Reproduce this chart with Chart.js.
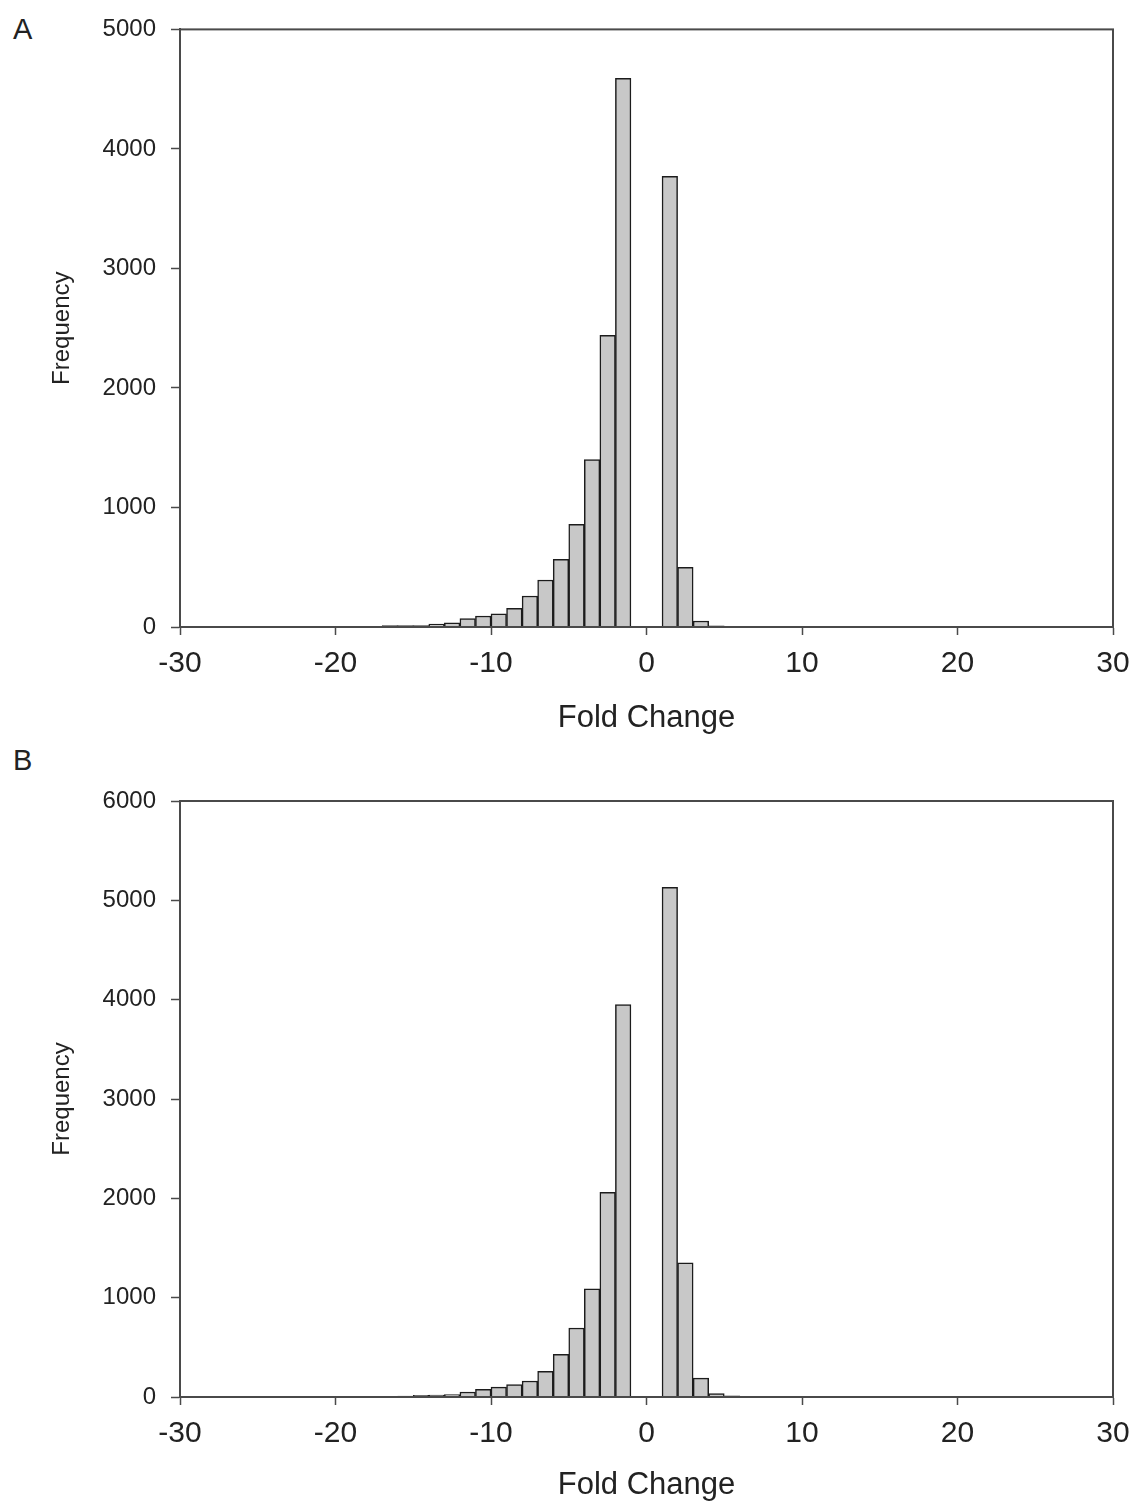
<!DOCTYPE html>
<html>
<head>
<meta charset="utf-8">
<script src="https://cdn.jsdelivr.net/npm/chart.js@4/dist/chart.umd.min.js"></script>
<style>
  html, body { margin: 0; padding: 0; background: #fff; }
  body { width: 1136px; height: 1504px; position: relative; overflow: hidden; font-family: "Liberation Sans", Arial, sans-serif; }
  .panel { position: absolute; left: 0; width: 1136px; }
  .tag { position: absolute; font-size: 29px; color: #222; font-family: "Liberation Sans", Arial, sans-serif; }
</style>
</head>
<body>
<div class="tag" style="left:13px; top:13px;">A</div>
<div class="tag" style="left:13px; top:744px;">B</div>
<div class="panel" style="top:0; height:740px;"><canvas id="chartA"></canvas></div>
<div class="panel" style="top:740px; height:764px;"><canvas id="chartB"></canvas></div>
<script>
// ---- Data (bin centres of 1-unit fold-change bins, and counts) ----
const foldBinsA = [-18.5, -17.5, -16.5, -15.5, -14.5, -13.5, -12.5, -11.5, -10.5, -9.5,
                   -8.5, -7.5, -6.5, -5.5, -4.5, -3.5, -2.5, -1.5, 1.5, 2.5, 3.5, 4.5];
const freqA     = [3, 5, 12, 12, 12, 25, 35, 70, 92, 111,
                   156, 259, 393, 566, 858, 1400, 2440, 4590, 3770, 500, 50, 10];

const foldBinsB = [-17.5, -16.5, -15.5, -14.5, -13.5, -12.5, -11.5, -10.5, -9.5,
                   -8.5, -7.5, -6.5, -5.5, -4.5, -3.5, -2.5, -1.5, 1.5, 2.5, 3.5, 4.5, 5.5];
const freqB     = [8, 2, 10, 18, 20, 25, 50, 77, 100,
                   124, 161, 258, 430, 695, 1090, 2060, 3950, 5130, 1350, 190, 35, 12];

const xTickValues = [-30, -20, -10, 0, 10, 20, 30];
const yMaxA = 5000, yMaxB = 6000, yStep = 1000;
const xTitle = 'Fold Change';
const yTitle = 'Frequency';

// ---- Styling ----
const AXIS = '#4a4a4a';
const TEXT = '#222';
const FONT = "'Liberation Sans', Arial, sans-serif";

const framePlugin = {
  id: 'frame',
  afterDraw(chart) {
    const {ctx, chartArea: a} = chart;
    ctx.save();
    ctx.strokeStyle = AXIS;
    ctx.lineWidth = 2;
    ctx.strokeRect(a.left, a.top, a.right - a.left, a.bottom - a.top);
    ctx.restore();
  }
};

function makeChart(id, bins, freq, yMax, padTop, xAxisHeight, titlePadBottom) {
  const data = bins.map((x, i) => ({x: x, y: freq[i]}));
  return new Chart(document.getElementById(id), {
    type: 'bar',
    data: {
      datasets: [{
        data: data,
        backgroundColor: '#c8c8c8',
        borderColor: '#1c1c1c',
        borderWidth: 1.5,
        barPercentage: 1.0,
        categoryPercentage: 1.0
      }]
    },
    options: {
      responsive: true,
      maintainAspectRatio: false,
      animation: false,
      layout: { padding: { top: padTop, right: 23, left: 0, bottom: 0 } },
      plugins: { legend: { display: false }, tooltip: { enabled: false } },
      scales: {
        x: {
          type: 'linear',
          min: -30, max: 30,
          offset: false,
          afterFit: s => { s.height = xAxisHeight; s.paddingLeft = 0; s.paddingRight = 0; },
          afterBuildTicks: s => { s.ticks = xTickValues.map(v => ({value: v})); },
          grid: { offset: false, drawOnChartArea: false, drawTicks: true, tickLength: 8, color: AXIS, tickWidth: 1.5 },
          border: { display: true, color: AXIS, width: 2 },
          ticks: { padding: 11, color: TEXT, font: { family: FONT, size: 30 }, maxRotation: 0,
                   callback: v => String(v) },
          title: { display: true, text: xTitle, color: TEXT, font: { family: FONT, size: 31 }, padding: { top: 0, bottom: titlePadBottom } }
        },
        y: {
          type: 'linear',
          min: 0, max: yMax,
          afterFit: s => { s.width = 180; },
          grid: { drawOnChartArea: false, drawTicks: true, tickLength: 9, color: AXIS, tickWidth: 1.5 },
          border: { display: true, color: AXIS, width: 2 },
          ticks: { stepSize: yStep, padding: 15, color: TEXT, font: { family: FONT, size: 24 },
                   callback: v => String(v) },
          title: { display: true, text: yTitle, color: TEXT, font: { family: FONT, size: 24 }, padding: { top: 48, bottom: 0 } }
        }
      }
    },
    plugins: [framePlugin]
  });
}

makeChart('chartA', foldBinsA, freqA, yMaxA, 29, 113, 3);
makeChart('chartB', foldBinsB, freqB, yMaxB, 61, 107, 0);
</script>
</body>
</html>
